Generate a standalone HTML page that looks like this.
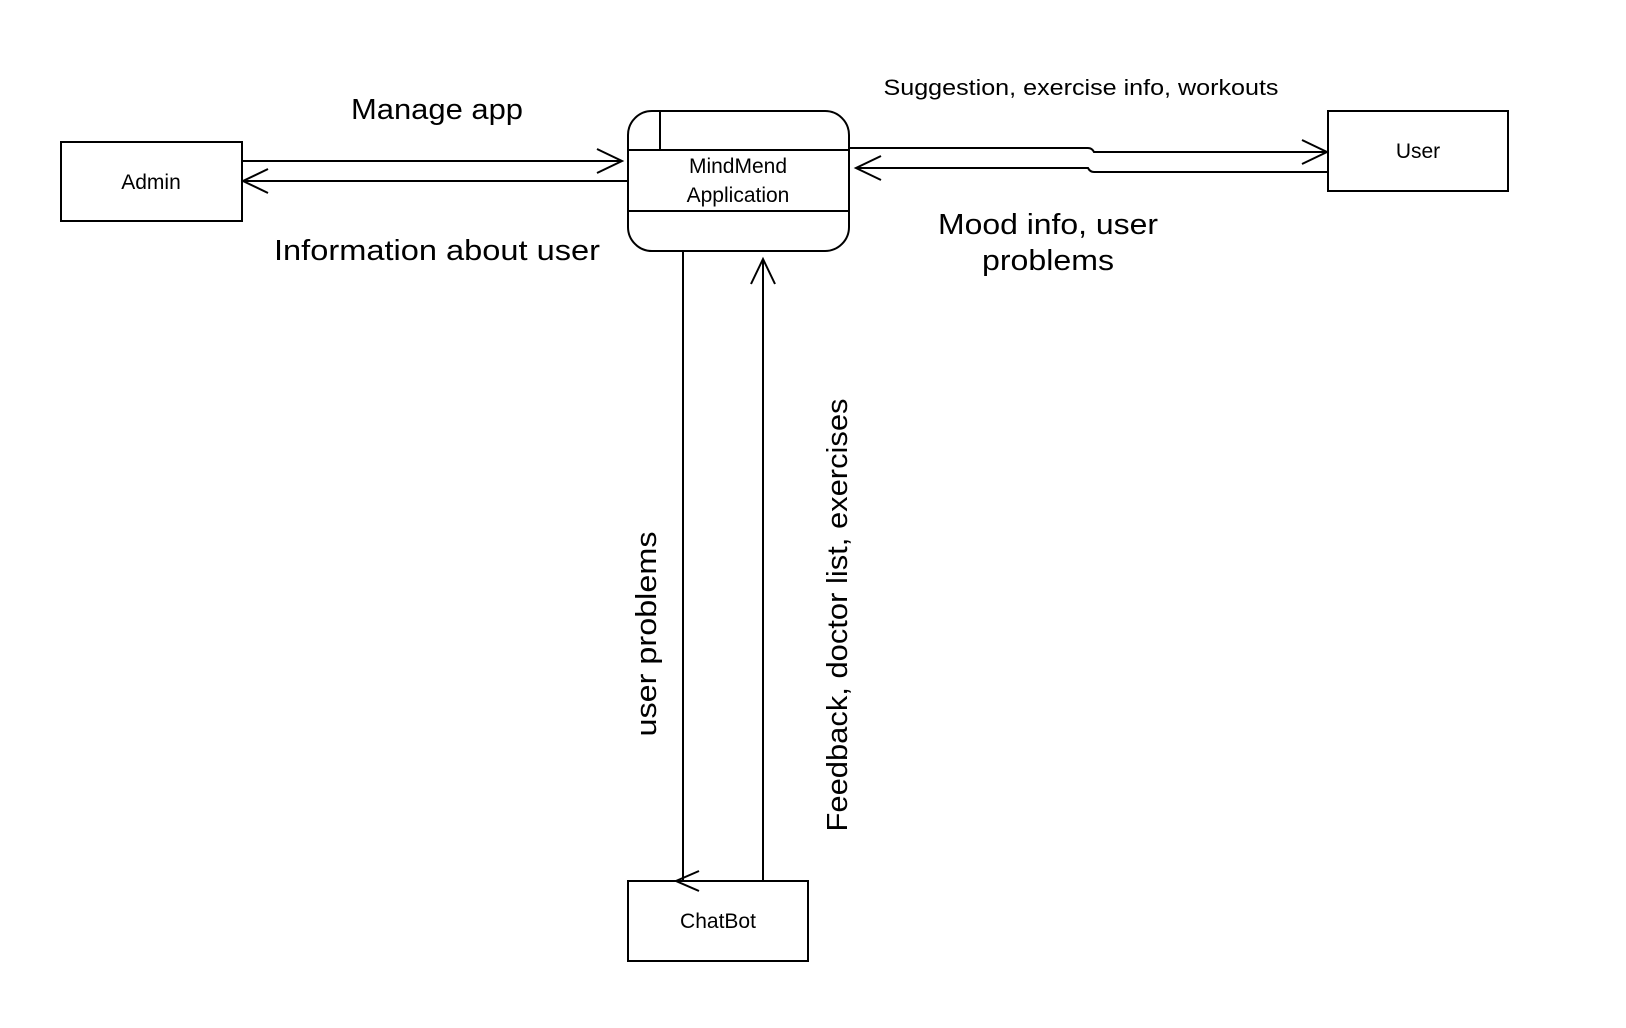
<!DOCTYPE html>
<html><head><style>
html,body{margin:0;padding:0;background:#fff;}
svg{display:block;}
text{font-family:"Liberation Sans",sans-serif;fill:#000;}
</style></head><body>
<svg width="1626" height="1028" viewBox="0 0 1626 1028" xmlns="http://www.w3.org/2000/svg">
<g fill="none" stroke="#000" stroke-width="2">
<rect x="61" y="142" width="181" height="79"/>
<rect x="1328" y="111" width="180" height="80"/>
<rect x="628" y="881" width="180" height="80"/>
<rect x="628" y="111" width="221" height="140" rx="24" ry="24"/>
<line x1="628" y1="150" x2="849" y2="150"/>
<line x1="628" y1="211" x2="849" y2="211"/>
<line x1="660" y1="111" x2="660" y2="150"/>
<line x1="242" y1="161" x2="622" y2="161"/>
<polyline points="597,149 622,161 597,173"/>
<line x1="628" y1="181" x2="243" y2="181"/>
<polyline points="268,169 243,181 268,193"/>
<path d="M849 148 L1088 148 Q1092 148 1094 152 L1327 152"/>
<polyline points="1302,140 1327,152 1302,164"/>
<path d="M1328 172 L1094 172 Q1090 172 1088 168 L856 168"/>
<polyline points="881,156 856,168 881,180"/>
<line x1="683" y1="251" x2="683" y2="881"/>
<polyline points="699,871 676,881 699,891"/>
<line x1="763" y1="881" x2="763" y2="259"/>
<polyline points="751,284 763,259 775,284"/>
</g>
<text x="151" y="189" font-size="21" text-anchor="middle">Admin</text>
<text x="1418" y="158" font-size="21" text-anchor="middle">User</text>
<text x="718" y="928" font-size="21" text-anchor="middle">ChatBot</text>
<text x="738" y="173" font-size="21" text-anchor="middle">MindMend</text>
<text x="738" y="202" font-size="21" text-anchor="middle">Application</text>
<text x="437" y="119" font-size="29" text-anchor="middle" textLength="172" lengthAdjust="spacingAndGlyphs">Manage app</text>
<text x="437" y="260" font-size="29" text-anchor="middle" textLength="326" lengthAdjust="spacingAndGlyphs">Information about user</text>
<text x="1081" y="95" font-size="22" text-anchor="middle" textLength="395" lengthAdjust="spacingAndGlyphs">Suggestion, exercise info, workouts</text>
<text x="1048" y="234" font-size="29" text-anchor="middle" textLength="220" lengthAdjust="spacingAndGlyphs">Mood info, user</text>
<text x="1048" y="270" font-size="29" text-anchor="middle" textLength="132" lengthAdjust="spacingAndGlyphs">problems</text>
<text transform="translate(656,634) rotate(-90)" font-size="29" text-anchor="middle" textLength="205" lengthAdjust="spacingAndGlyphs">user problems</text>
<text transform="translate(847,615) rotate(-90)" font-size="29" text-anchor="middle" textLength="433" lengthAdjust="spacingAndGlyphs">Feedback, doctor list, exercises</text>
</svg>
</body></html>
